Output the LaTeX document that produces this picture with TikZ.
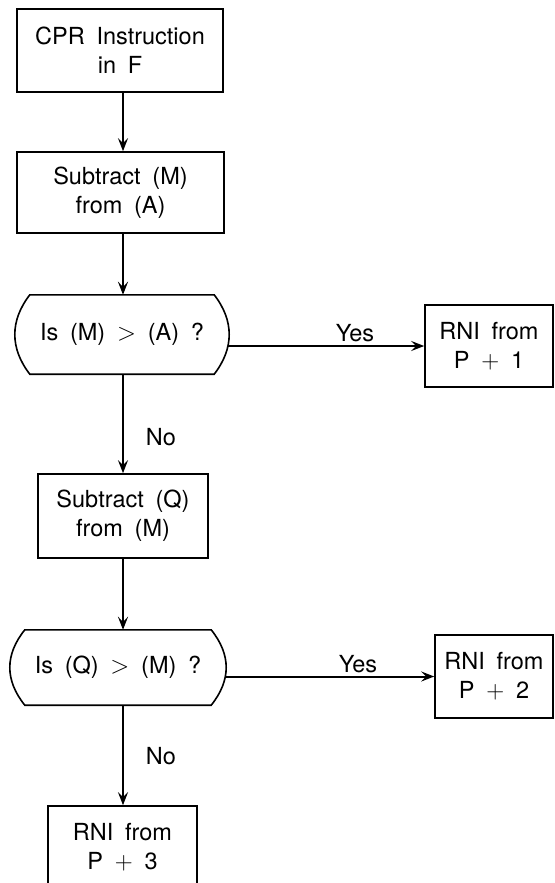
\documentclass[tikz,border=0pt]{standalone}
\usepackage{fontspec}
\setmainfont{TeX Gyre Heros}[WordSpace=1.8]
\usetikzlibrary{arrows.meta}
\begin{document}
\begin{tikzpicture}[x=1pt,y=-1pt,
  every node/.style={font=\fontsize{23.5}{29}\selectfont, align=center, inner sep=0pt},
  proc/.style={draw, line width=1.6pt},
  decshape/.style={line width=1.6pt},
  arr/.style={line width=2pt, -{Stealth[length=13pt,width=10pt,inset=5pt]}},
  lbl/.style={}
]
\clip (0,0) rectangle (554,883);
\fill[white] (0,0) rectangle (554,883);
\coordinate (col) at (123,0);

\node[proc, minimum width=206pt, minimum height=83pt] (b1) at (120,50.5) {CPR Instruction\\in F};
\node[proc, minimum width=207pt, minimum height=81pt] (b2) at (120.5,192.5) {Subtract (M)\\from (A)};
\node[minimum width=184pt, minimum height=79pt] (d1) at (122,334.5) {Is (M) $>$ (A) ?};
\node[proc, minimum width=128pt, minimum height=82pt] (r1) at (489,346) {RNI from\\P $+$ 1};
\node[proc, minimum width=170pt, minimum height=84pt] (b3) at (123,516) {Subtract (Q)\\from (M)};
\node[minimum width=186pt, minimum height=75pt] (d2) at (118,667.5) {Is (Q) $>$ (M) ?};
\node[proc, minimum width=118pt, minimum height=83pt] (r2) at (494,676.5) {RNI from\\P $+$ 2};
\node[proc, minimum width=149pt, minimum height=82pt] (r3) at (122.5,847) {RNI from\\P $+$ 3};

\draw[decshape] (d1.north west) -- (d1.north east)
  .. controls +(20,26) and +(20,-26) .. (d1.south east) -- (d1.south west)
  .. controls +(-20,-26) and +(-20,26) .. (d1.north west) -- cycle;
\draw[decshape] (d2.north west) -- (d2.north east)
  .. controls +(20,25) and +(20,-25) .. (d2.south east) -- (d2.south west)
  .. controls +(-20,-25) and +(-20,25) .. (d2.north west) -- cycle;
\path (d1.east) ++(14,0) coordinate (d1r);
\path (d2.east) ++(14,0) coordinate (d2r);

\draw[arr] (b1.south -| col) -- (b2.north -| col);
\draw[arr] (b2.south -| col) -- (d1.north -| col);
\draw[arr] (d1.south -| col) -- (b3.north -| col);
\draw[arr] (b3.south -| col) -- (d2.north -| col);
\draw[arr] (d2.south -| col) -- (r3.north -| col);
\draw[arr] (r1.west -| d1r) -- (r1.west);
\draw[arr] (r2.west -| d2r) -- (r2.west);

\node[lbl] (y1) at (355,333) {Yes};
\node[lbl] (y2) at (358,664) {Yes};
\node[lbl] (n1) at (161,437) {No};
\node[lbl] (n2) at (161,756) {No};
\end{tikzpicture}
\end{document}
